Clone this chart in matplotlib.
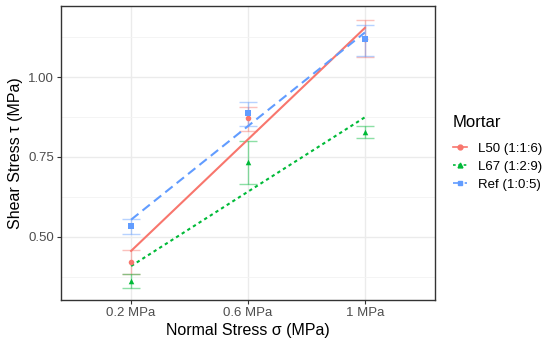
import numpy as np
import matplotlib
matplotlib.use("Agg")
import matplotlib.pyplot as plt
from matplotlib.lines import Line2D

plt.rcParams['font.family'] = ['Liberation Sans', 'DejaVu Sans']

# data
stress_labels = ['0.2 MPa', '0.6 MPa', '1 MPa']
stress_vals = [0.2, 0.6, 1.0]
series_names = ['L50 (1:1:6)', 'L67 (1:2:9)', 'Ref (1:0:5)']

l50_mean = [0.423, 0.872, 1.120]
l50_lo = [0.384, 0.831, 1.063]
l50_hi = [0.459, 0.906, 1.178]

l67_mean = [0.363, 0.734, 0.828]
l67_lo = [0.341, 0.666, 0.809]
l67_hi = [0.384, 0.800, 0.847]

ref_mean = [0.534, 0.887, 1.119]
ref_lo = [0.509, 0.847, 1.066]
ref_hi = [0.556, 0.922, 1.163]

colors = ['#F8766D', '#00BA38', '#619CFF']
markers = ['o', '^', 's']
styles = ['-', (0, (1.6, 1.6)), (0, (4.5, 2.5))]

fig = plt.figure(figsize=(5.5, 3.47), dpi=100)
ax = fig.add_axes([61/550, 47/347, 374/550, 294/347])

xpos = np.arange(1, len(stress_labels) + 1)
all_series = [(l50_mean, l50_lo, l50_hi), (l67_mean, l67_lo, l67_hi), (ref_mean, ref_lo, ref_hi)]

handles = []
for (mean, lo, hi), col, mk, ls, name in zip(all_series, colors, markers, styles, series_names):
    mean = np.array(mean)
    err = [mean - np.array(lo), np.array(hi) - mean]
    ax.errorbar(xpos, mean, yerr=err, fmt='none', ecolor=col, alpha=0.45,
                elinewidth=1.0, capsize=6.5, capthick=1.0, zorder=2)
    ax.scatter(xpos, mean, marker=mk, s=16, color=col, zorder=3, linewidths=0)
    # linear fit of the means
    k, b = np.polyfit(stress_vals, mean, 1)
    fit = k * np.array(stress_vals) + b
    ax.plot(xpos, fit, color=col, linestyle=ls, linewidth=1.5, zorder=2.5)
    handles.append(Line2D([], [], color=col, linestyle=ls, linewidth=1.2,
                          marker=mk, markersize=3.5, label=name))

ax.set_xlim(0.4, 3.6)
ax.set_ylim(0.303, 1.222)
ax.set_xticks(xpos)
ax.set_xticklabels(stress_labels)
ax.set_yticks([0.50, 0.75, 1.00])
ax.set_yticklabels(['0.50', '0.75', '1.00'])
ax.set_yticks([0.375, 0.625, 0.875, 1.125], minor=True)

ax.grid(True, which='major', color='#EBEBEB', linewidth=1.0, zorder=0)
ax.grid(True, which='minor', axis='y', color='#F3F3F3', linewidth=0.6, zorder=0)
ax.set_axisbelow(True)
for s in ax.spines.values():
    s.set_color('#333333')
    s.set_linewidth(1.0)
ax.tick_params(which='major', length=3, color='#333333', labelsize=9.5,
               labelcolor='#4D4D4D', pad=2)
ax.tick_params(which='minor', length=0)

ax.set_xlabel('Normal Stress σ (MPa)', fontsize=11.5, labelpad=3)
ax.set_ylabel('Shear Stress τ (MPa)', fontsize=11.5, labelpad=4)

leg = fig.legend(handles=handles, title='Mortar', loc='upper left',
                 bbox_to_anchor=(453/550, 1 - 115/347), frameon=False,
                 borderpad=0, borderaxespad=0,
                 fontsize=9.5, title_fontsize=12, handlelength=1.05,
                 handletextpad=0.85, labelspacing=0.45)
leg._legend_box.align = 'left'
leg._legend_box.sep = 9

fig.savefig('out.png', dpi=100)
